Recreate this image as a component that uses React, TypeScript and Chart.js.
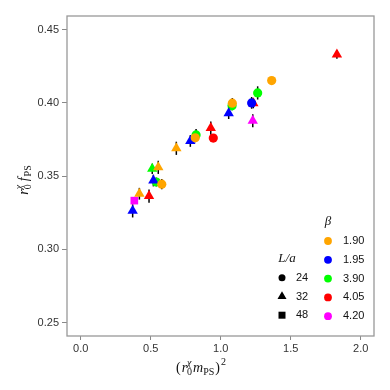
import React, { useEffect, useRef } from 'react';
import { Chart, registerables } from 'chart.js';

Chart.register(...registerables);

// ---- data ----
const betaLabels = ['1.90', '1.95', '3.90', '4.05', '4.20'];
const sizeLabels = ['24', '32', '48'];
const xTickValues = [0, 0.5, 1.0, 1.5, 2.0];
const yTickValues = [0.25, 0.3, 0.35, 0.4, 0.45];

// (r0 m_PS)^2
const pointX = [
  1.364, 1.083, 0.818, 0.579, 0.683, 0.554, 0.419,
  1.221, 1.057, 0.783, 0.519, 0.371,
  1.264, 1.081, 0.824, 0.54, 0.511,
  1.83, 1.233, 0.929, 0.947, 0.488,
  1.229, 0.383,
];
// r0 f_PS
const pointY = [
  0.4152, 0.3998, 0.3762, 0.3445, 0.369, 0.356, 0.338,
  0.4, 0.393, 0.374, 0.347, 0.3263,
  0.4068, 0.398, 0.3781, 0.346, 0.355,
  0.4331, 0.3998, 0.3828, 0.376, 0.3364,
  0.3878, 0.3333,
];
const pointErr = [
  0.002, 0.0035, 0.003, 0.0035, 0.0045, 0.0045, 0.004,
  0.004, 0.004, 0.004, 0.004, 0.0045,
  0.0045, 0.003, 0.004, 0.003, 0.0035,
  0.003, 0.0035, 0.0045, 0.002, 0.0045,
  0.0045, 0.002,
];
// index into betaLabels
const pointBeta = [
  0, 0, 0, 0, 0, 0, 0,
  1, 1, 1, 1, 1,
  2, 2, 2, 2, 2,
  3, 3, 3, 3, 3,
  4, 4,
];
// index into sizeLabels
const pointSize = [
  0, 0, 0, 0, 1, 1, 1,
  0, 1, 1, 1, 1,
  0, 0, 0, 0, 1,
  1, 1, 1, 0, 1,
  1, 2,
];

// ---- styles ----
const betaColors = ['#FFA500', '#0000FF', '#00FF00', '#FF0000', '#FF00FF'];
const sizeShapes = ['circle', 'triangle', 'rect'];
const sizeRadius = [4.6, 6, 5.4];
const SANS = '"Liberation Sans", Arial, sans-serif';
const SERIF = '"Liberation Serif", "Times New Roman", serif';

type Part = { t: string; size: number; italic?: boolean; dy?: number; gap?: number; stack?: boolean };

function drawMath(ctx: CanvasRenderingContext2D, parts: Part[], cx: number, baseY: number) {
  let x = 0;
  let lastStart = 0;
  let lastW = 0;
  const items: { p: Part; x: number }[] = [];
  for (const p of parts) {
    ctx.font = `${p.italic ? 'italic ' : ''}${p.size}px ${SERIF}`;
    const w = ctx.measureText(p.t).width;
    if (p.stack) {
      const start = lastStart;
      items.push({ p, x: start });
      x = Math.max(lastStart + lastW, start + w);
      lastW = Math.max(lastW, w);
    } else {
      const start = x + (p.gap || 0);
      items.push({ p, x: start });
      lastStart = start;
      lastW = w;
      x = start + w;
    }
  }
  const ox = cx - x / 2;
  ctx.textAlign = 'left';
  ctx.textBaseline = 'alphabetic';
  for (const it of items) {
    ctx.font = `${it.p.italic ? 'italic ' : ''}${it.p.size}px ${SERIF}`;
    ctx.fillText(it.p.t, ox + it.x, baseY + (it.p.dy || 0));
  }
}

function drawMarker(ctx: CanvasRenderingContext2D, shape: string, x: number, y: number, r: number, color: string) {
  ctx.fillStyle = color;
  ctx.beginPath();
  if (shape === 'circle') {
    ctx.arc(x, y, r, 0, Math.PI * 2);
  } else if (shape === 'triangle') {
    let rad = 0;
    ctx.moveTo(x + Math.sin(rad) * r, y - Math.cos(rad) * r);
    rad += (2 * Math.PI) / 3;
    ctx.lineTo(x + Math.sin(rad) * r, y - Math.cos(rad) * r);
    rad += (2 * Math.PI) / 3;
    ctx.lineTo(x + Math.sin(rad) * r, y - Math.cos(rad) * r);
    ctx.closePath();
  } else {
    ctx.rect(x - r, y - r, 2 * r, 2 * r);
  }
  ctx.fill();
}

const errorBarPlugin = {
  id: 'errorBars',
  beforeDatasetsDraw(chart: any) {
    const ctx = chart.ctx as CanvasRenderingContext2D;
    const xs = chart.scales.x;
    const ys = chart.scales.y;
    ctx.save();
    ctx.strokeStyle = '#000';
    ctx.lineWidth = 1.5;
    for (let i = 0; i < pointX.length; i++) {
      const px = xs.getPixelForValue(pointX[i]);
      const y1 = ys.getPixelForValue(pointY[i] - pointErr[i]);
      const y2 = ys.getPixelForValue(pointY[i] + pointErr[i]);
      ctx.beginPath();
      ctx.moveTo(px, y1);
      ctx.lineTo(px, y2);
      ctx.stroke();
    }
    ctx.restore();
  },
};

const decorPlugin = {
  id: 'decor',
  afterDraw(chart: any) {
    const ctx = chart.ctx as CanvasRenderingContext2D;
    const a = chart.chartArea;
    ctx.save();
    // frame
    ctx.strokeStyle = '#999';
    ctx.lineWidth = 1.3;
    ctx.strokeRect(a.left, a.top, a.right - a.left, a.bottom - a.top);

    // axis titles
    ctx.fillStyle = '#111';
    drawMath(
      ctx,
      [
        { t: '(', size: 14 },
        { t: 'r', size: 14, italic: true, gap: 1 },
        { t: 'χ', size: 10, italic: true, dy: -6 },
        { t: '0', size: 10, dy: 3, stack: true },
        { t: 'm', size: 14, italic: true, gap: 1 },
        { t: 'PS', size: 10, dy: 3 },
        { t: ')', size: 14, gap: 1 },
        { t: '2', size: 10, dy: -7, gap: 1 },
      ],
      201,
      372
    );
    ctx.save();
    ctx.translate(28, 180);
    ctx.rotate(-Math.PI / 2);
    drawMath(
      ctx,
      [
        { t: 'r', size: 14, italic: true },
        { t: 'χ', size: 10, italic: true, dy: -6 },
        { t: '0', size: 10, dy: 3, stack: true },
        { t: 'f', size: 14, italic: true, gap: 3 },
        { t: 'PS', size: 10, dy: 3, gap: 1 },
      ],
      0,
      0
    );
    ctx.restore();

    // legends
    const bx = a.right - 46;
    const by = a.top + 206;
    ctx.fillStyle = '#111';
    ctx.textAlign = 'center';
    ctx.textBaseline = 'middle';
    ctx.font = `italic 13px ${SERIF}`;
    ctx.fillText('β', bx, by);
    for (let i = 0; i < betaLabels.length; i++) {
      const yy = by + 19 + i * 18.8;
      drawMarker(ctx, 'circle', bx, yy, 3.9, betaColors[i]);
      ctx.fillStyle = '#111';
      ctx.textAlign = 'left';
      ctx.font = `11px ${SANS}`;
      ctx.fillText(betaLabels[i], bx + 15, yy);
    }
    const lx = a.right - 92;
    const ly = a.top + 243;
    ctx.textAlign = 'center';
    ctx.font = `italic 13px ${SERIF}`;
    ctx.fillStyle = '#111';
    ctx.fillText('L/a', lx + 5, ly);
    const legR = [3.5, 5.2, 3.5];
    for (let i = 0; i < sizeLabels.length; i++) {
      const yy = ly + 18.8 + i * 18.7;
      drawMarker(ctx, sizeShapes[i], lx, yy, legR[i], '#000');
      ctx.fillStyle = '#111';
      ctx.textAlign = 'left';
      ctx.font = `11px ${SANS}`;
      ctx.fillText(sizeLabels[i], lx + 14, yy);
    }
    ctx.restore();
  },
};

export default function App() {
  const ref = useRef<HTMLCanvasElement | null>(null);
  useEffect(() => {
    document.body.style.margin = '0';
    if (!ref.current) return;
    const datasets = betaLabels.map((label, b) => {
      const idx = pointX.map((_, i) => i).filter((i) => pointBeta[i] === b);
      return {
        label,
        data: idx.map((i) => ({ x: pointX[i], y: pointY[i] })),
        backgroundColor: betaColors[b],
        borderColor: betaColors[b],
        pointBorderWidth: 0,
        pointStyle: idx.map((i) => sizeShapes[pointSize[i]]),
        pointRadius: idx.map((i) => sizeRadius[pointSize[i]]),
        showLine: false,
      };
    });
    const chart = new Chart(ref.current, {
      type: 'scatter',
      data: { datasets: datasets as any },
      options: {
        animation: false,
        responsive: false,
        events: [],
        layout: { padding: { top: 16, right: 16, left: 0, bottom: 0 } },
        plugins: { legend: { display: false }, tooltip: { enabled: false } },
        scales: {
          x: {
            type: 'linear',
            min: -0.098,
            max: 2.095,
            afterFit: (s: any) => {
              s.height = 54;
            },
            afterBuildTicks: (s: any) => {
              s.ticks = xTickValues.map((v) => ({ value: v }));
            },
            ticks: {
              callback: (v: any) => Number(v).toFixed(1),
              font: { family: SANS, size: 11 },
              color: '#333',
              padding: 2,
              maxRotation: 0,
              autoSkip: false,
            },
            grid: { drawOnChartArea: false, tickLength: 4, color: '#888', tickColor: '#888' },
            border: { display: false },
          },
          y: {
            type: 'linear',
            min: 0.2409,
            max: 0.4593,
            afterFit: (s: any) => {
              s.width = 67;
            },
            afterBuildTicks: (s: any) => {
              s.ticks = yTickValues.map((v) => ({ value: v }));
            },
            ticks: {
              callback: (v: any) => Number(v).toFixed(2),
              font: { family: SANS, size: 11 },
              color: '#333',
              padding: 3,
              autoSkip: false,
            },
            grid: { drawOnChartArea: false, tickLength: 5, color: '#888', tickColor: '#888' },
            border: { display: false },
          },
        },
      },
      plugins: [errorBarPlugin, decorPlugin],
    });
    return () => chart.destroy();
  }, []);
  return (
    <div style={{ width: 390, height: 390 }}>
      <canvas ref={ref} width={390} height={390} />
    </div>
  );
}
